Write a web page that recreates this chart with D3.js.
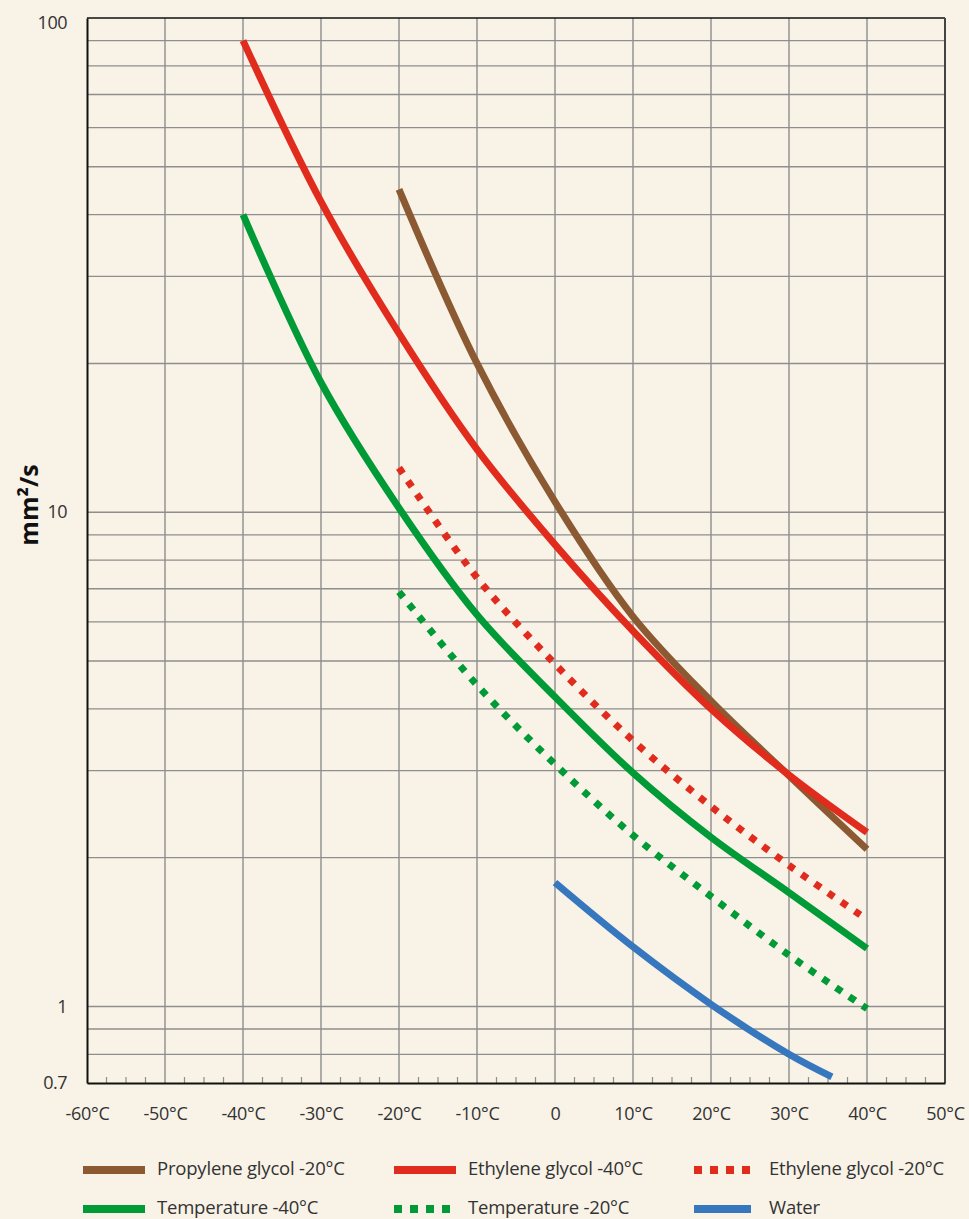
<!DOCTYPE html>
<html>
<head>
<meta charset="utf-8">
<script src="https://cdn.jsdelivr.net/npm/d3@7"></script>
<style>
  html, body { margin: 0; padding: 0; background: #f8f2e7; }
  svg { display: block; font-family: "Open Sans", sans-serif; }
</style>
</head>
<body>
<div id="chart"></div>
<script>
// Kinematic viscosity (mm²/s) vs temperature
const tempsFrom40 = [-40, -30, -20, -10, 0, 10, 20, 30, 40]
const tempsFrom20 = [-20, -10, 0, 10, 20, 30, 40]
const tempsWater = [0, 10, 20, 30, 35.5]

const ethylene40 = [90, 42.5, 23, 13.4, 8.6, 5.75, 4.0, 2.94, 2.25]
const propylene20 = [45, 20, 10.5, 6.15, 4.15, 2.93, 2.08]
const temperature40 = [40, 18.3, 10.2, 6.2, 4.23, 2.97, 2.2, 1.7, 1.31]
const ethylene20 = [12.3, 7.37, 4.93, 3.45, 2.54, 1.93, 1.5]
const temperature20 = [6.9, 4.47, 3.09, 2.22, 1.67, 1.27, 0.99]
const water = [1.78, 1.32, 1.01, 0.8, 0.72]

const xTicks = [-60, -50, -40, -30, -20, -10, 0, 10, 20, 30, 40, 50]
const yTickLabels = [0.7, 1, 10, 100]
const yGrid = [0.8, 0.9, 1, 2, 3, 4, 5, 6, 7, 8, 9, 10, 20, 30, 40, 50, 60, 70, 80, 90]

const series = [
  { name: "Propylene glycol -20°C", x: tempsFrom20, y: propylene20, color: "#8b5a32", dotted: false },
  { name: "Ethylene glycol -40°C", x: tempsFrom40, y: ethylene40, color: "#e02b1d", dotted: false },
  { name: "Ethylene glycol -20°C", x: tempsFrom20, y: ethylene20, color: "#e02b1d", dotted: true },
  { name: "Temperature -40°C", x: tempsFrom40, y: temperature40, color: "#009a36", dotted: false },
  { name: "Temperature -20°C", x: tempsFrom20, y: temperature20, color: "#009a36", dotted: true },
  { name: "Water", x: tempsWater, y: water, color: "#3777be", dotted: false }
]

const width = 969
const height = 1219
const margin = { top: 18, right: 24, bottom: 136, left: 87 }
const innerW = width - margin.left - margin.right
const innerH = height - margin.top - margin.bottom

const svg = d3.select("#chart")
  .append("svg")
  .attr("width", width)
  .attr("height", height)

svg.append("rect")
  .attr("width", width)
  .attr("height", height)
  .attr("fill", "#f8f2e7")

const g = svg.append("g")
  .attr("transform", `translate(${margin.left},${margin.top})`)

const x = d3.scaleLinear().domain([-60, 50]).range([0, innerW])
const y = d3.scaleLog().domain([0.7, 100]).range([innerH, 0])

// --- Grid ---
g.selectAll(".hgrid")
  .data(yGrid)
  .join("line")
  .attr("x1", 0)
  .attr("x2", innerW)
  .attr("y1", d => y(d))
  .attr("y2", d => y(d))
  .attr("stroke", "#8e8e8e")
  .attr("stroke-width", 1.4)

g.selectAll(".vgrid")
  .data(xTicks.slice(1, -1))
  .join("line")
  .attr("x1", d => x(d))
  .attr("x2", d => x(d))
  .attr("y1", 0)
  .attr("y2", innerH)
  .attr("stroke", "#8e8e8e")
  .attr("stroke-width", 1.4)

// minor ticks every 2.5°C along the bottom
const minor = d3.range(-60, 50.01, 2.5).filter(d => d % 10 !== 0)
g.selectAll(".minor")
  .data(minor)
  .join("line")
  .attr("x1", d => x(d))
  .attr("x2", d => x(d))
  .attr("y1", innerH)
  .attr("y2", innerH - 6)
  .attr("stroke", "#8e8e8e")
  .attr("stroke-width", 1.2)

// frame
g.append("line").attr("x1", 0).attr("x2", innerW).attr("y1", 0).attr("y2", 0)
  .attr("stroke", "#111").attr("stroke-width", 1.6)
g.append("line").attr("x1", innerW).attr("x2", innerW).attr("y1", 0).attr("y2", innerH)
  .attr("stroke", "#444").attr("stroke-width", 2)

// --- Curves ---
const line = d3.line()
  .x(d => x(d[0]))
  .y(d => y(d[1]))
  .curve(d3.curveCatmullRom.alpha(0.5))

series.forEach(s => {
  g.append("path")
    .datum(d3.zip(s.x, s.y))
    .attr("d", line)
    .attr("fill", "none")
    .attr("stroke", s.color)
    .attr("stroke-width", 7)
    .attr("stroke-linecap", "butt")
    .attr("stroke-dasharray", s.dotted ? "7,9" : null)
})

// --- Axes ---
const xAxis = d3.axisBottom(x)
  .tickValues(xTicks)
  .tickSize(0)
  .tickPadding(24)
  .tickFormat(d => d === 0 ? "0" : `${d}°C`)

const xg = g.append("g")
  .attr("transform", `translate(0,${innerH})`)
  .call(xAxis)
xg.select(".domain").attr("stroke", "#111").attr("stroke-width", 2)
xg.selectAll("text")
  .attr("fill", "#333")
  .attr("font-size", "18px")
  .attr("letter-spacing", "-0.3px")
  .attr("font-family", "Open Sans, sans-serif")

const yAxis = d3.axisLeft(y)
  .tickValues(yTickLabels)
  .tickSize(0)
  .tickPadding(20)
  .tickFormat(d => String(d))

const yg = g.append("g").call(yAxis)
yg.select(".domain").attr("stroke", "#111").attr("stroke-width", 2)
yg.selectAll("text")
  .attr("fill", "#333")
  .attr("font-size", "18px")
  .attr("letter-spacing", "-0.5px")
  .attr("font-family", "Open Sans, sans-serif")
yg.selectAll(".tick").filter(d => d === 100).select("text").attr("dy", "0.6em")

// y axis title
svg.append("text")
  .attr("transform", `translate(38,505) rotate(-90)`)
  .attr("text-anchor", "middle")
  .attr("font-size", "25px")
  .attr("font-weight", "700")
  .attr("fill", "#111")
  .text("mm²/s")

// --- Legend ---
const legendCols = [83, 394, 694]
const legendRows = [1170, 1209]
const legend = svg.append("g")

series.forEach((s, i) => {
  const lx = legendCols[i % 3]
  const ly = legendRows[Math.floor(i / 3)]
  const swW = i % 3 === 2 ? 57 : 62
  legend.append("line")
    .attr("x1", lx)
    .attr("x2", lx + swW)
    .attr("y1", ly)
    .attr("y2", ly)
    .attr("stroke", s.color)
    .attr("stroke-width", 8)
    .attr("stroke-dasharray", s.dotted ? "8,8" : null)
  legend.append("text")
    .attr("x", i % 3 === 2 ? lx + 75 : lx + 74)
    .attr("y", ly + 5)
    .attr("fill", "#333")
    .attr("font-size", "18.5px")
    .attr("letter-spacing", "-0.2px")
    .text(s.name)
})
</script>
</body>
</html>
